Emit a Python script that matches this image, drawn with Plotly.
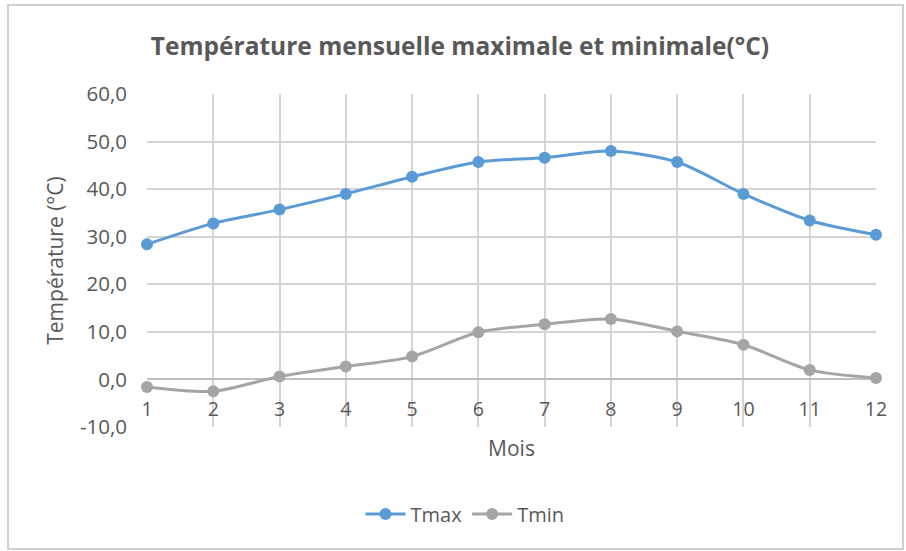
import plotly.graph_objects as go

mois = [1, 2, 3, 4, 5, 6, 7, 8, 9, 10, 11, 12]
tmax = [28.4, 32.8, 35.7, 39.0, 42.6, 45.7, 46.6, 48.0, 45.7, 39.0, 33.4, 30.4]
tmin = [-1.6, -2.5, 0.6, 2.7, 4.8, 9.9, 11.6, 12.7, 10.1, 7.3, 2.0, 0.3]
y_ticks = [-10, 0, 10, 20, 30, 40, 50, 60]
y_labels = [f"{v:.1f}".replace(".", ",") for v in y_ticks]

W, H = 906, 551
L, R, T, B = 147, 30, 94, 124
pw, ph = W - L - R, H - T - B

FONT = "Open Sans"
TXT = "#595959"

fig = go.Figure()
fig.add_trace(go.Scatter(
    x=mois, y=tmax, name="Tmax", mode="lines+markers",
    line=dict(color="#5B9BD5", width=3, shape="spline", smoothing=0.8),
    marker=dict(color="#5B9BD5", size=12), cliponaxis=False))
fig.add_trace(go.Scatter(
    x=mois, y=tmin, name="Tmin", mode="lines+markers",
    line=dict(color="#A5A5A5", width=3, shape="spline", smoothing=0.8),
    marker=dict(color="#A5A5A5", size=12), cliponaxis=False))

zero_pos = (0 - y_ticks[0]) / (y_ticks[-1] - y_ticks[0])

fig.update_layout(
    width=W, height=H,
    margin=dict(l=L, r=R, t=T, b=B, autoexpand=False),
    paper_bgcolor="white", plot_bgcolor="white",
    separators=", ",
    font=dict(family=FONT, color=TXT, size=19),
    title=dict(text="<b>Température mensuelle maximale et minimale(°C)</b>",
               x=460 / W, xanchor="center", y=1 - 46 / H, yanchor="middle",
               font=dict(family=FONT, size=24.5, color=TXT)),
    xaxis=dict(range=[1, 12], tickvals=mois, showgrid=True, gridcolor="#D4D4D4",
               gridwidth=1.5, zeroline=False, showline=False,
               anchor="free", position=zero_pos, ticks="",
               ticklabelstandoff=16, tickfont=dict(size=19.5, color=TXT),
               title=dict(text="Mois", standoff=20, font=dict(size=21, color=TXT)),
               automargin=False),
    yaxis=dict(range=[y_ticks[0], y_ticks[-1]], tickvals=y_ticks, ticktext=y_labels,
               showgrid=True, gridcolor="#D4D4D4", gridwidth=1.5,
               zeroline=True, zerolinecolor="#BFBFBF", zerolinewidth=1.5,
               showline=False, ticks="", ticklabelstandoff=19,
               tickfont=dict(size=20.5, color=TXT),
               title=dict(text="Température (°C)", standoff=10,
                          font=dict(size=21, color=TXT)),
               automargin=False),
    legend=dict(orientation="h", x=(465 - L) / pw, xanchor="center",
                y=(H - B - 514) / ph, yanchor="middle",
                font=dict(size=20, color=TXT), itemwidth=40,
                bgcolor="rgba(0,0,0,0)"),
    showlegend=True,
)

# outer chart border
fig.add_shape(type="rect", xref="paper", yref="paper",
              x0=(8 - L) / pw, x1=(903 - L) / pw,
              y0=(H - B - 549) / ph, y1=(H - B - 5) / ph,
              line=dict(color="#D0D0D0", width=2), fillcolor="rgba(0,0,0,0)",
              layer="below")

fig.write_html("out.html")
